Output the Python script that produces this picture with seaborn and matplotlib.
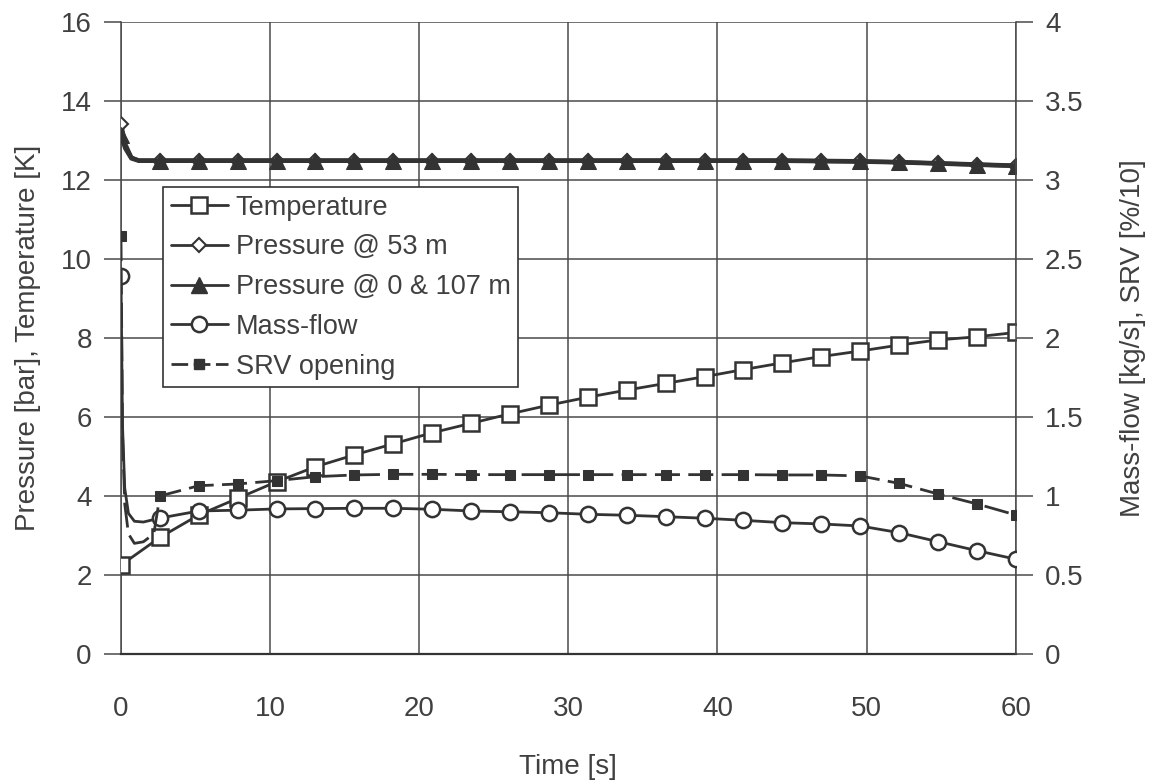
import numpy as np
import pandas as pd
import matplotlib
matplotlib.use("Agg")
import matplotlib.pyplot as plt
from matplotlib.lines import Line2D
from matplotlib.ticker import FuncFormatter
import seaborn as sns

# ---------------- data ----------------
time_markers = [0.0, 2.61, 5.22, 7.83, 10.43, 13.04, 15.65, 18.26, 20.87, 23.48,
                26.09, 28.70, 31.30, 33.91, 36.52, 39.13, 41.74, 44.35, 46.96,
                49.57, 52.17, 54.78, 57.39, 60.0]

temperature = [2.25, 2.95, 3.52, 3.94, 4.36, 4.74, 5.04, 5.32, 5.60, 5.84,
               6.08, 6.30, 6.50, 6.68, 6.85, 7.02, 7.20, 7.37, 7.53, 7.67,
               7.82, 7.95, 8.03, 8.14]

pressure_0_107 = [13.13, 12.49, 12.49, 12.49, 12.49, 12.49, 12.49, 12.49, 12.49, 12.49,
                  12.49, 12.49, 12.49, 12.49, 12.49, 12.49, 12.49, 12.49, 12.48, 12.47,
                  12.45, 12.42, 12.39, 12.36]
pressure_0_107_early_t = [0.3, 0.7, 1.2]
pressure_0_107_early = [12.80, 12.55, 12.49]

pressure_53 = [13.43, 12.49, 12.49, 12.49, 12.49, 12.49, 12.49, 12.49, 12.49, 12.49,
               12.49, 12.49, 12.49, 12.49, 12.49, 12.49, 12.49, 12.49, 12.48, 12.47,
               12.45, 12.42, 12.39, 12.36]
pressure_53_early_t = [0.3, 0.7, 1.2]
pressure_53_early = [12.90, 12.57, 12.49]

mass_flow = [2.39, 0.86, 0.905, 0.91, 0.918, 0.92, 0.922, 0.922, 0.916, 0.905,
             0.90, 0.894, 0.884, 0.878, 0.869, 0.859, 0.846, 0.831, 0.823, 0.81,
             0.768, 0.711, 0.654, 0.60]
mass_flow_early_t = [0.1, 0.25, 0.5, 0.9, 1.5]
mass_flow_early = [1.45, 1.05, 0.89, 0.84, 0.835]

srv_opening = [2.645, 1.00, 1.065, 1.076, 1.097, 1.122, 1.133, 1.137, 1.137, 1.135,
               1.135, 1.135, 1.135, 1.135, 1.135, 1.135, 1.135, 1.133, 1.133, 1.127,
               1.08, 1.013, 0.95, 0.88]
srv_early_t = [0.1, 0.25, 0.5, 0.9, 1.5, 2.2]
srv_early = [1.40, 0.95, 0.76, 0.70, 0.71, 0.76]

left_ticks = [0, 2, 4, 6, 8, 10, 12, 14, 16]
right_ticks = [0, 0.5, 1, 1.5, 2, 2.5, 3, 3.5, 4]
x_ticks = [0, 10, 20, 30, 40, 50, 60]

labels = ["Temperature", "Pressure @ 53 m", "Pressure @ 0 & 107 m",
          "Mass-flow", "SRV opening"]

# ---------------- style ----------------
sns.set_theme(style="white")
plt.rcParams["font.family"] = ["Liberation Sans", "DejaVu Sans"]
INK = "#333333"
TXT = "#404040"
FS = 20
LFS = 19.5

fig = plt.figure(figsize=(11.49, 7.83), dpi=100)
ax = fig.add_axes([0.1053, 0.1648, 0.7787, 0.8071])
ax2 = ax.twinx()


def merged(t_main, v_main, t_early, v_early):
    df = pd.DataFrame({"t": list(t_main) + list(t_early),
                       "v": list(v_main) + list(v_early)})
    df = df.sort_values("t").reset_index(drop=True)
    idx = [int(df.index[df["t"] == t][0]) for t in t_main]
    return df, idx


# Temperature (left)
df_T = pd.DataFrame({"t": time_markers, "v": temperature})
sns.lineplot(data=df_T, x="t", y="v", ax=ax, color=INK, lw=2.0, marker="s",
             markersize=11, markerfacecolor="white", markeredgecolor=INK,
             markeredgewidth=1.8, zorder=3)

# Pressure @ 53 m (left)
df_p53, idx_p53 = merged(time_markers, pressure_53, pressure_53_early_t, pressure_53_early)
sns.lineplot(data=df_p53, x="t", y="v", ax=ax, color=INK, lw=3.0, marker="D",
             markersize=7, markerfacecolor="white", markeredgecolor=INK,
             markeredgewidth=1.5, markevery=idx_p53, zorder=3)

# Pressure @ 0 & 107 m (left)
df_p0, idx_p0 = merged(time_markers, pressure_0_107, pressure_0_107_early_t, pressure_0_107_early)
sns.lineplot(data=df_p0, x="t", y="v", ax=ax, color=INK, lw=3.4, marker="^",
             markersize=12, markerfacecolor=INK, markeredgecolor=INK,
             markevery=idx_p0, zorder=4)

# Mass-flow (right)
df_m, idx_m = merged(time_markers, mass_flow, mass_flow_early_t, mass_flow_early)
sns.lineplot(data=df_m, x="t", y="v", ax=ax2, color=INK, lw=2.0, marker="o",
             markersize=11, markerfacecolor="white", markeredgecolor=INK,
             markeredgewidth=1.8, markevery=idx_m, zorder=3)

# SRV opening (right)
df_s, idx_s = merged(time_markers, srv_opening, srv_early_t, srv_early)
sns.lineplot(data=df_s, x="t", y="v", ax=ax2, color=INK, lw=2.0, marker="s",
             markersize=7, markerfacecolor=INK, markeredgecolor=INK,
             markevery=idx_s, zorder=3)
ax2.lines[-1].set_dashes([9, 3])

# ---------------- axes ----------------
ax.set_xlim(0, 60)
ax.set_ylim(0, 16)
ax2.set_ylim(0, 4)
ax.set_xticks(x_ticks)
ax.set_yticks(left_ticks)
ax2.set_yticks(right_ticks)
ax2.yaxis.set_major_formatter(FuncFormatter(lambda v, p: f"{v:g}"))

ax.grid(True, color="#4a4a4a", lw=1.1)
ax2.grid(False)
for a in (ax, ax2):
    for s in a.spines.values():
        s.set_visible(False)
ax.spines["left"].set_visible(True)
ax.spines["left"].set_color("#4a4a4a")
ax.spines["left"].set_linewidth(1.1)
ax.spines["bottom"].set_visible(True)
ax.spines["bottom"].set_color("#333333")
ax.spines["bottom"].set_linewidth(1.6)
ax2.spines["right"].set_visible(True)
ax2.spines["right"].set_color("#4a4a4a")
ax2.spines["right"].set_linewidth(1.1)

ax.tick_params(axis="both", direction="out", length=12, width=1.1, color="#4a4a4a",
               labelsize=FS, labelcolor=TXT, pad=9)
ax.tick_params(axis="x", pad=18)
ax2.tick_params(axis="y", direction="out", length=12, width=1.1, color="#4a4a4a",
                labelsize=FS, labelcolor=TXT, pad=9)

ax.set_xlabel("Time [s]", fontsize=FS, color=TXT, labelpad=23)
ax.set_ylabel("Pressure [bar], Temperature [K]", fontsize=FS, color=TXT, labelpad=14)
ax2.set_ylabel("Mass-flow [kg/s], SRV [%/10]", fontsize=FS, color=TXT, labelpad=26)

# ---------------- legend ----------------
handles = [
    Line2D([], [], color=INK, lw=2.0, marker="s", markersize=11,
           markerfacecolor="white", markeredgecolor=INK, markeredgewidth=1.8),
    Line2D([], [], color=INK, lw=2.0, marker="D", markersize=7,
           markerfacecolor="white", markeredgecolor=INK, markeredgewidth=1.5),
    Line2D([], [], color=INK, lw=2.0, marker="^", markersize=12,
           markerfacecolor=INK, markeredgecolor=INK),
    Line2D([], [], color=INK, lw=2.0, marker="o", markersize=11,
           markerfacecolor="white", markeredgecolor=INK, markeredgewidth=1.8),
    Line2D([], [], color=INK, lw=2.0, marker="s", markersize=7,
           markerfacecolor=INK, markeredgecolor=INK, dashes=[6, 2]),
]
leg = ax2.legend(handles, labels, loc="upper left", bbox_to_anchor=(0.047, 0.739),
                 fontsize=LFS, frameon=True, fancybox=False, edgecolor="#333333",
                 framealpha=1, handlelength=2.1, handletextpad=0.3,
                 labelspacing=0.51, borderpad=0.28, borderaxespad=0)
leg.get_frame().set_linewidth(1.2)
for t in leg.get_texts():
    t.set_color(TXT)

fig.savefig("out.png", dpi=100, facecolor="white")
